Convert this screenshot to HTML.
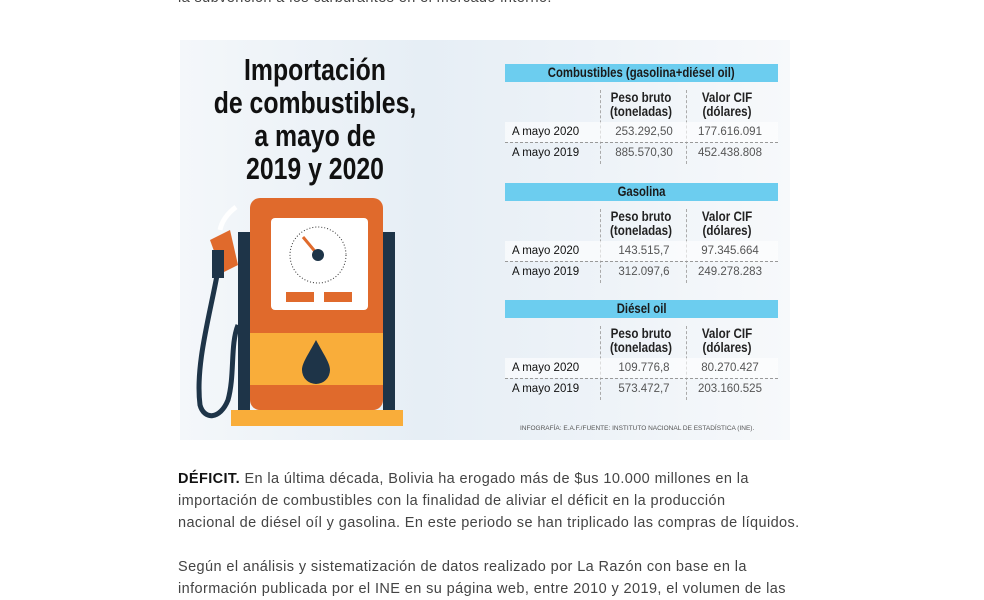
<!DOCTYPE html>
<html><head><meta charset="utf-8"><style>
body{margin:0;width:984px;height:595px;overflow:hidden;background:#fff;font-family:"Liberation Sans",sans-serif;position:relative}
.abs{position:absolute}
.info{left:180px;top:40px;width:610px;height:400px;background:linear-gradient(90deg,#f4f7fa,#e6eef5 40%,#eef3f8 70%,#f7f9fb);}
.title{left:165px;top:53px;width:300px;text-align:center;font-weight:bold;font-size:31px;line-height:33px;color:#111;white-space:nowrap;transform:scaleX(0.8);transform-origin:150px 0}
.hdr{left:505px;width:273px;height:18px;background:#6ccdef;font-weight:bold;font-size:13.5px;line-height:18px;text-align:center;color:#1a1a1a;white-space:nowrap}
.hdr span{display:inline-block;transform:scaleX(0.84)}
.ch{width:86px;text-align:center;font-weight:bold;font-size:13.5px;line-height:14px;color:#222;transform:scaleX(0.86);white-space:nowrap}
.row{left:505px;width:273px;height:20px;font-size:11.5px;line-height:20px;color:#222}
.row span{position:absolute}
.row .l{left:7px;color:#111}
.row .a{left:96px;width:86px;text-align:center;color:#555}
.row .b{left:182px;width:86px;text-align:center;color:#555}
.vd{width:0;border-left:1px dashed #aaa}
.p{left:178px;font-size:14.5px;color:#444;line-height:22px;white-space:nowrap;letter-spacing:0.4px}
</style></head><body>
<div class="abs p" style="top:-13px">la subvención a los carburantes en el mercado interno.</div>
<div class="abs info"></div>
<div class="abs title">Importación<br>de combustibles,<br>a mayo de<br>2019 y 2020</div>
<svg class="abs" style="left:190px;top:195px" width="220" height="235">
<rect x="48" y="37" width="12" height="178" fill="#1e3448"/>
<rect x="193" y="37" width="12" height="178" fill="#1e3448"/>
<rect x="60" y="3" width="133" height="212" rx="10" fill="#e06a2c"/>
<rect x="60" y="138" width="133" height="52" fill="#f9ad3a"/>
<rect x="81" y="23" width="97" height="92" rx="4" fill="#fff"/>
<circle cx="128" cy="60" r="28" fill="none" stroke="#333" stroke-width="1" stroke-dasharray="1 2"/>
<line x1="128" y1="60" x2="113" y2="42" stroke="#e06a2c" stroke-width="3"/>
<circle cx="128" cy="60" r="6" fill="#1e3448"/>
<g fill="#e06a2c"><rect x="96" y="97" width="28" height="10"/><rect x="134" y="97" width="28" height="10"/></g>
<path d="M126 145 C118 160 112 168 112 175 a14 14 0 0 0 28 0 C140 168 134 160 126 145Z" fill="#1e3448"/>
<rect x="41" y="215" width="172" height="16" fill="#f9ad3a"/>
<path d="M28 75 C20 120 5 170 10 210 C14 225 30 225 38 205 C45 180 40 150 48 130" fill="none" stroke="#1e3448" stroke-width="5"/>
<path d="M20 45 L40 35 L48 70 L32 78 Z" fill="#e06a2c"/>
<rect x="22" y="55" width="12" height="28" fill="#1e3448"/>
<path d="M30 35 C32 25 38 18 46 12" stroke="#fff" stroke-width="5" fill="none"/>
</svg>

<div class="abs hdr" style="top:64px"><span>Combustibles (gasolina+diésel oil)</span></div>
<div class="abs hdr" style="top:183px"><span>Gasolina</span></div>
<div class="abs hdr" style="top:300px"><span>Diésel oil</span></div>

<div id="tables"></div>
<div class="abs" style="left:520px;top:425px;font-size:6.5px;color:#555">INFOGRAFÍA: E.A.F./FUENTE: INSTITUTO NACIONAL DE ESTADÍSTICA (INE).</div>

<div class="abs p" style="top:468px"><b style="color:#111">DÉFICIT.</b> En la última década, Bolivia ha erogado más de $us 10.000 millones en la<br>importación de combustibles con la finalidad de aliviar el déficit en la producción<br>nacional de diésel oíl y gasolina. En este periodo se han triplicado las compras de líquidos.</div>
<div class="abs p" style="top:556px">Según el análisis y sistematización de datos realizado por La Razón con base en la<br>información publicada por el INE en su página web, entre 2010 y 2019, el volumen de las</div>
<script>
const tableNames=['combustibles','gasolina','diesel'];
const tableTops=[64,183,300];
const peso2020=['253.292,50','143.515,7','109.776,8'];
const peso2019=['885.570,30','312.097,6','573.472,7'];
const cif2020=['177.616.091','97.345.664','80.270.427'];
const cif2019=['452.438.808','249.278.283','203.160.525'];
const host=document.getElementById('tables');
tableTops.forEach((t,i)=>{
  let h='';
  h+=`<div class="abs ch" style="left:598px;top:${t+27}px">Peso bruto<br>(toneladas)</div>`;
  h+=`<div class="abs ch" style="left:684px;top:${t+27}px">Valor CIF<br>(dólares)</div>`;
  h+=`<div class="abs vd" style="left:600px;top:${t+26}px;height:74px"></div><div class="abs vd" style="left:686px;top:${t+26}px;height:74px"></div>`;
  h+=`<div class="abs row" style="top:${t+58}px;background:rgba(255,255,255,.6)"><span class="l">A mayo 2020</span><span class="a">${peso2020[i]}</span><span class="b">${cif2020[i]}</span></div>`;
  h+=`<div class="abs" style="left:505px;width:273px;top:${t+78}px;border-top:1px dashed #999"></div>`;
  h+=`<div class="abs row" style="top:${t+79}px"><span class="l">A mayo 2019</span><span class="a">${peso2019[i]}</span><span class="b">${cif2019[i]}</span></div>`;
  host.insertAdjacentHTML('beforeend',h);
});
</script>
</body></html>
